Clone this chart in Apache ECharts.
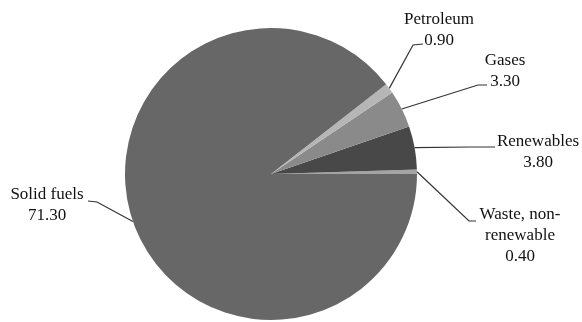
<!DOCTYPE html>
<html>
<head>
<meta charset="utf-8">
<script src="https://cdn.jsdelivr.net/npm/echarts@6/dist/echarts.min.js"></script>
<style>
  html, body { margin: 0; padding: 0; background: #ffffff; }
  #chart { width: 582px; height: 322px; }
</style>
</head>
<body>
<div id="chart"></div>
<script>
// Energy sources, listed counter-clockwise from the 3 o'clock position
const categories = ['Waste, non-renewable', 'Renewables', 'Gases', 'Petroleum', 'Solid fuels'];
const values = [0.40, 3.80, 3.30, 0.90, 71.30];
const sliceColors = ['#a4a4a4', '#484848', '#8a8a8a', '#b6b6b6', '#676767'];

// Where each label block sits (centre of the text block) and where its leader line bends
const labelPlacement = {
  'Petroleum':            { x: 439, y: 30,  bend: [[413, 45], [423, 44]] },
  'Gases':                { x: 505, y: 71,  bend: [[478, 85], [487, 85]] },
  'Renewables':           { x: 538, y: 152, bend: [[470, 147], [495, 147]] },
  'Waste, non-renewable': { x: 520, y: 236, bend: [[469, 221], [476, 221]] },
  'Solid fuels':          { x: 47,  y: 205, bend: [[97, 202], [88, 201]] }
};

const chart = echarts.init(document.getElementById('chart'), null, { renderer: 'canvas' });

const pieData = categories.map((name, i) => ({
  name: name,
  value: values[i],
  itemStyle: { color: sliceColors[i] }
}));

chart.setOption({
  backgroundColor: '#ffffff',
  animation: false,
  series: [{
    type: 'pie',
    center: [271, 174],
    radius: 146,
    startAngle: 0,
    clockwise: false,
    avoidLabelOverlap: false,
    data: pieData,
    itemStyle: { borderWidth: 0 },
    label: {
      show: true,
      position: 'outside',
      fontFamily: '"Liberation Serif", "Times New Roman", serif',
      fontSize: 17,
      lineHeight: 21,
      color: '#111111',
      align: 'center',
      formatter: p => p.name.replace('non-renewable', 'non-\nrenewable') + '\n' + p.value.toFixed(2)
    },
    labelLine: {
      show: true,
      length: 20,
      length2: 10,
      smooth: false,
      lineStyle: { color: '#333333', width: 1.2 }
    },
    labelLayout: function (params) {
      const place = labelPlacement[categories[params.dataIndex]];
      const start = params.labelLinePoints ? params.labelLinePoints[0] : null;
      const out = {
        x: place.x,
        y: place.y,
        align: 'center',
        verticalAlign: 'middle'
      };
      if (start) {
        out.labelLinePoints = [start].concat(place.bend);
      }
      return out;
    }
  }]
});
</script>
</body>
</html>
